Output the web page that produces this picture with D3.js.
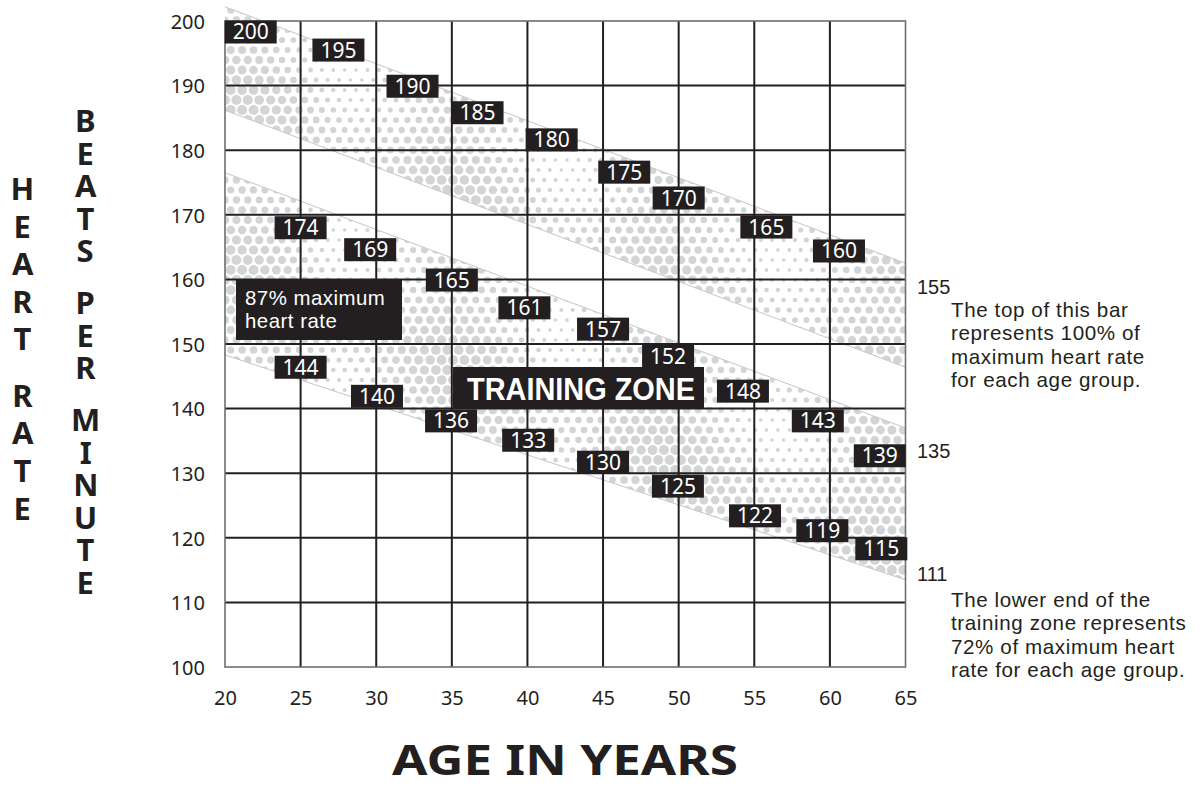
<!DOCTYPE html>
<html>
<head>
<meta charset="utf-8">
<script src="https://cdn.jsdelivr.net/npm/d3@7"></script>
<style>
  html, body { margin: 0; padding: 0; background: #fff; }
  svg { display: block; font-family: "Noto Sans", "Open Sans", sans-serif; }
  .stack { writing-mode: vertical-rl; text-orientation: upright; }
  .para { font-family: "Liberation Sans", Arial, sans-serif; }
</style>
</head>
<body>
<svg id="chart" width="1204" height="792"></svg>
<script>
// ---- Target heart rate by age ----
const ages      = [20, 25, 30, 35, 40, 45, 50, 55, 60];
const maxRate   = [200, 195, 190, 185, 180, 175, 170, 165, 160]; // 100% of maximum
const zoneHigh  = [174, 169, 165, 161, 157, 152, 148, 143, 139]; // 87% of maximum
const zoneLow   = [144, 140, 136, 133, 130, 125, 122, 119, 115]; // 72% of maximum
const endLabels = ["155", "135", "111"];                          // values at age 65

// Band outlines (bpm) at the two ends of the age axis
const bandAges      = [20, 65];
const maxBandTop    = [202.2, 162.5];
const maxBandBottom = [186.2, 146.4];
const zoneBandTop   = [176.5, 137.0];
const zoneBandBot   = [148.3, 113.5];

// Axis ticks
const xTicks = [20, 25, 30, 35, 40, 45, 50, 55, 60, 65];
const yTicks = [100, 110, 120, 130, 140, 150, 160, 170, 180, 190, 200];

// Where each value tag sits along its band (age, bpm of the tag centre)
const maxTagAge   = [21.7, 27.5, 32.4, 36.7, 41.6, 46.4, 50.0, 55.8, 60.6];
const maxTagBpm   = [198.3, 195.5, 189.9, 185.8, 181.6, 176.6, 172.6, 168.1, 164.4];
const highTagAge  = [25.0, 29.6, 35.0, 39.8, 45.0, 49.3, 54.25, 59.2, 63.3];
const highTagBpm  = [168.0, 164.6, 159.9, 155.6, 152.3, 148.1, 142.7, 138.1, 132.7];
const lowTagAge   = [25.0, 30.05, 34.95, 40.05, 45.0, 49.95, 55.05, 59.5, 63.4];
const lowTagBpm   = [146.4, 141.9, 138.1, 135.1, 131.7, 128.0, 123.4, 121.1, 118.3];

const noteTop = ["The top of this bar", "represents 100% of", "maximum heart rate", "for each age group."];
const noteLow = ["The lower end of the", "training zone represents", "72% of maximum heart", "rate for each age group."];

// ---- Layout ----
const svg = d3.select("#chart");
const ink = "#231f20";
const frameInk = "#6d6e70";
const dotInk = "#d3d4d6";

const x = d3.scaleLinear().domain([20, 65]).range([225, 905.5]);
const y = d3.scaleLinear().domain([100, 200]).range([667, 21]);

// ---- Shaded bands (halftone dots) ----
function bandPolygon(top, bottom) {
  return [
    [x(bandAges[0]), y(top[0])],
    [x(bandAges[1]), y(top[1])],
    [x(bandAges[1]), y(bottom[1])],
    [x(bandAges[0]), y(bottom[0])]
  ];
}
const bands = [
  bandPolygon(maxBandTop, maxBandBottom),
  bandPolygon(zoneBandTop, zoneBandBot)
];

const defs = svg.append("defs");
const clip = defs.append("clipPath").attr("id", "bandClip");
clip.selectAll("polygon").data(bands).join("polygon")
  .attr("points", d => d.map(p => p.join(",")).join(" "));

// halftone texture: hex grid of dots whose size drifts across the band
const dots = [];
const step = 11.4, rowH = 10;
for (let r = 0, py = 0; py < 600; r++, py += rowH) {
  const off = (r % 2) ? step / 2 : 0;
  for (let px = 225 + off; px < 912; px += step) {
    const t = 0.5 + 0.3 * Math.sin(px / 34 + 0.7) + 0.22 * Math.cos(py / 27 - px / 61);
    dots.push({ px, py, r: 1.8 + 3.2 * Math.max(0, Math.min(1, t)) });
  }
}
svg.append("g").attr("clip-path", "url(#bandClip)")
  .selectAll("circle").data(dots).join("circle")
  .attr("cx", d => d.px).attr("cy", d => d.py).attr("r", d => d.r)
  .attr("fill", dotInk);

// band edges
const edge = d3.line().x(d => x(d[0])).y(d => y(d[1]));
[maxBandTop, maxBandBottom, zoneBandTop, zoneBandBot].forEach(vals => {
  svg.append("path")
    .attr("d", edge(bandAges.map((a, i) => [a, vals[i]])))
    .attr("fill", "none").attr("stroke", "#c4c6c8").attr("stroke-width", 1);
});

// ---- Grid ----
const grid = svg.append("g");
grid.selectAll("line.v").data(xTicks.slice(1, -1)).join("line")
  .attr("x1", d => x(d)).attr("x2", d => x(d))
  .attr("y1", y(200)).attr("y2", y(100))
  .attr("stroke", ink).attr("stroke-width", 2);
grid.selectAll("line.h").data(yTicks.slice(1, -1)).join("line")
  .attr("x1", x(20)).attr("x2", x(65))
  .attr("y1", d => y(d)).attr("y2", d => y(d))
  .attr("stroke", ink).attr("stroke-width", 2);
svg.append("rect")
  .attr("x", x(20)).attr("y", y(200))
  .attr("width", x(65) - x(20)).attr("height", y(100) - y(200))
  .attr("fill", "none").attr("stroke", frameInk).attr("stroke-width", 1.6);

// ---- Axes labels ----
const yAxis = d3.axisLeft(y).tickValues(yTicks).tickSize(0).tickPadding(20);
svg.append("g").attr("transform", `translate(${x(20)},0)`).call(yAxis)
  .call(g => g.select(".domain").remove())
  .selectAll("text").attr("font-size", 20).attr("fill", ink)
  .attr("font-family", "Noto Sans").attr("dy", "0.36em");

const xAxis = d3.axisBottom(x).tickValues(xTicks).tickSize(0).tickPadding(24);
svg.append("g").attr("transform", `translate(0,${y(100)})`).call(xAxis)
  .call(g => g.select(".domain").remove())
  .selectAll("text").attr("font-size", 20).attr("fill", ink)
  .attr("font-family", "Noto Sans");

// x title
svg.append("text")
  .attr("x", 565).attr("y", 775)
  .attr("text-anchor", "middle")
  .attr("font-size", 42).attr("font-weight", 700).attr("fill", ink)
  .attr("textLength", 346).attr("lengthAdjust", "spacingAndGlyphs")
  .text("AGE IN YEARS");

// stacked vertical titles: one upright vertical text per word
const stackSize = 31;
function stackedWord(word, cx, firstCenter, pitch) {
  const t = svg.append("text")
    .attr("class", "stack")
    .attr("x", cx).attr("y", 0)
    .attr("font-size", stackSize).attr("font-weight", 700).attr("fill", ink)
    .text(word);
  // measure one glyph's advance, then tune spacing to the wanted pitch
  const n = word.length;
  const adv = t.node().getBBox().height / n;
  t.style("letter-spacing", (pitch - adv) + "px");
  const b2 = t.node().getBBox();
  // centre of the first glyph lands on firstCenter
  t.attr("y", firstCenter - (b2.y + adv / 2));
}
stackedWord("HEART", 22, 188, 37.6);
stackedWord("RATE", 22, 188 + 5.5 * 37.6, 37.6);
stackedWord("BEATS", 85, 120, 32.5);
stackedWord("PER", 85, 120 + 5.6 * 32.5, 32.5);
stackedWord("MINUTE", 85, 120 + 9.2 * 32.5, 32.5);

// ---- Value tags ----
function tags(values, tagAge, tagBpm) {
  const g = svg.append("g");
  const w = 52, h = 23;
  const item = g.selectAll("g").data(values).join("g")
    .attr("transform", (d, i) => `translate(${x(tagAge[i])},${y(tagBpm[i])})`);
  item.append("rect")
    .attr("x", -w / 2).attr("y", -h / 2).attr("width", w).attr("height", h)
    .attr("fill", ink);
  item.append("text")
    .attr("text-anchor", "middle").attr("y", 7.5)
    .attr("font-size", 21).attr("fill", "#fff")
    .text(d => d);
}
tags(maxRate, maxTagAge, maxTagBpm);
tags(zoneHigh, highTagAge, highTagBpm);
tags(zoneLow, lowTagAge, lowTagBpm);

// 87% call-out
svg.append("rect").attr("x", 236).attr("y", 279).attr("width", 166).attr("height", 61).attr("fill", ink);
["87% maximum", "heart rate"].forEach((l, i) => {
  svg.append("text").attr("class", "para")
    .attr("x", 245).attr("y", 305 + i * 23)
    .attr("font-size", 20.4).attr("fill", "#fff")
    .style("letter-spacing", "0.5px")
    .text(l);
});

// training zone title
svg.append("rect").attr("x", 453).attr("y", 367).attr("width", 251).attr("height", 41).attr("fill", ink);
svg.append("text").attr("class", "para")
  .attr("x", 581).attr("y", 400).attr("text-anchor", "middle")
  .attr("font-size", 32).attr("font-weight", 700).attr("fill", "#fff")
  .attr("textLength", 228).attr("lengthAdjust", "spacingAndGlyphs")
  .text("TRAINING ZONE");

// ---- Right-hand notes ----
const endY = [294, 458, 581];
svg.selectAll("text.end").data(endLabels).join("text")
  .attr("class", "end para")
  .attr("x", 917).attr("y", (d, i) => endY[i])
  .attr("font-size", 20).attr("fill", ink)
  .text(d => d);

function note(lines, top) {
  lines.forEach((l, i) => {
    svg.append("text").attr("class", "para")
      .attr("x", 951).attr("y", top + i * 23.4)
      .attr("font-size", 20.6).attr("fill", ink)
      .style("letter-spacing", "0.6px")
      .text(l);
  });
}
note(noteTop, 317);
note(noteLow, 607);
</script>
</body>
</html>
